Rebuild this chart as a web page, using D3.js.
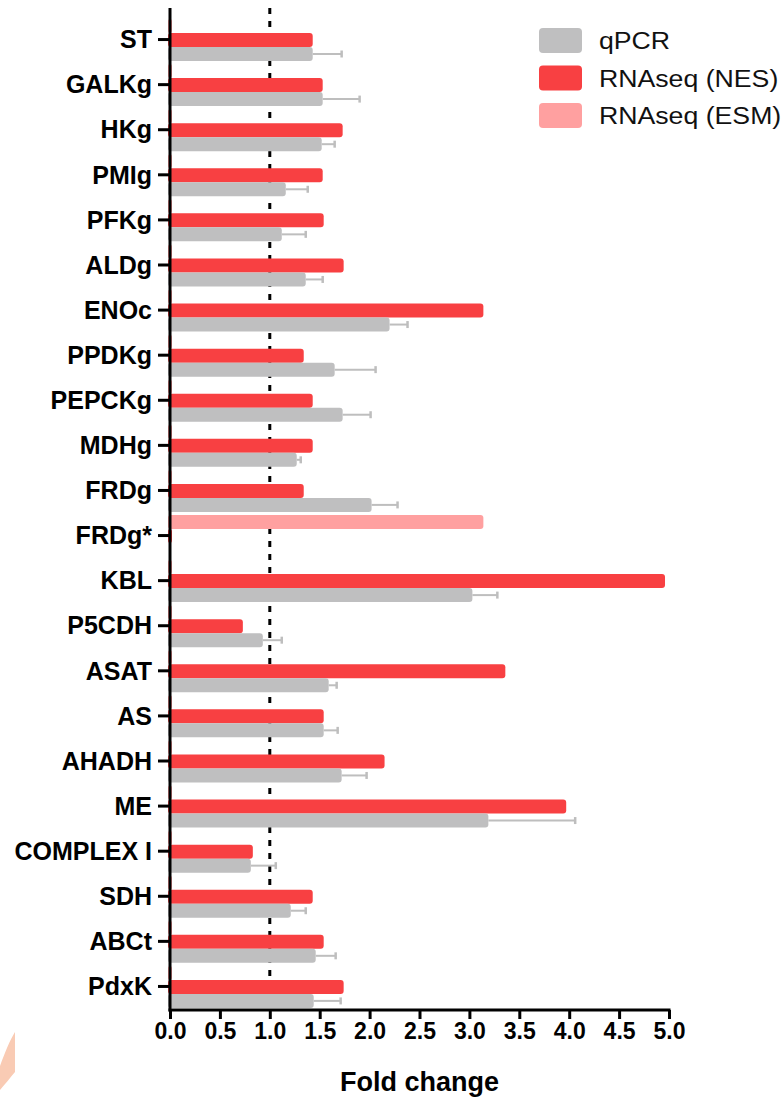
<!DOCTYPE html>
<html>
<head>
<meta charset="utf-8">
<script src="https://cdn.jsdelivr.net/npm/d3@7"></script>
<style>
  body { margin: 0; background: #fff; }
  svg { display: block; }
</style>
</head>
<body>
<div id="chart"></div>
<script>
var genes = ['ST', 'GALKg', 'HKg', 'PMIg', 'PFKg', 'ALDg', 'ENOc', 'PPDKg', 'PEPCKg', 'MDHg', 'FRDg',
  'FRDg*', 'KBL', 'P5CDH', 'ASAT', 'AS', 'AHADH', 'ME', 'COMPLEX I', 'SDH', 'ABCt', 'PdxK'];

var esm = [0.02, 0.02, 0.02, 0.02, 0.02, 0.02, 0.02, 0.02, 0.02, 0.02, 0.02,
  3.14, 0.02, 0.02, 0.02, 0.02, 0.02, 0.02, 0.02, 0.02, 0.02, 0.02];
var nes = [1.43, 1.53, 1.73, 1.53, 1.54, 1.74, 3.14, 1.34, 1.43, 1.43, 1.34,
  0.02, 4.96, 0.73, 3.36, 1.54, 2.15, 3.97, 0.83, 1.43, 1.54, 1.74];
var qpcr = [1.43, 1.53, 1.52, 1.16, 1.12, 1.36, 2.20, 1.65, 1.73, 1.27, 2.02,
  0, 3.03, 0.93, 1.59, 1.54, 1.72, 3.19, 0.81, 1.21, 1.46, 1.44];
var qpcrErr = [1.72, 1.90, 1.65, 1.38, 1.36, 1.53, 2.38, 2.06, 2.01, 1.31, 2.28,
  0, 3.28, 1.12, 1.67, 1.68, 1.97, 4.06, 1.06, 1.36, 1.66, 1.71];

var xTicks = [0, 0.5, 1, 1.5, 2, 2.5, 3, 3.5, 4, 4.5, 5];
var series = ['ESM', 'NES', 'qPCR'];
var legendLabels = ['qPCR', 'RNAseq (NES)', 'RNAseq (ESM)'];
var colors = { qPCR: '#bfbfc0', NES: '#f84042', ESM: '#ffa0a0' };

var width = 783, height = 1097;
var font = '"Liberation Sans", Arial, sans-serif';

var svg = d3.select('#chart')
  .append('svg')
  .attr('width', width)
  .attr('height', height);

var x = d3.scaleLinear()
  .domain([0, 5])
  .range([170, 669]);

var y = d3.scaleBand()
  .domain(genes)
  .range([18, 1010])
  .padding(0);

var ySub = d3.scaleBand()
  .domain(series)
  .range([1, 43]);

var rows = genes.map(function(g, i) {
  return { gene: g, ESM: esm[i], NES: nes[i], qPCR: qpcr[i], err: qpcrErr[i] };
});

// reference line at fold change 1
svg.append('line')
  .attr('x1', x(1)).attr('x2', x(1))
  .attr('y1', 8).attr('y2', 1010)
  .attr('stroke', '#000')
  .attr('stroke-width', 3)
  .attr('stroke-dasharray', '6,7');

var groups = svg.selectAll('.gene')
  .data(rows)
  .enter()
  .append('g')
  .attr('class', 'gene')
  .attr('transform', function(d) { return 'translate(0,' + y(d.gene) + ')'; });

// error bars (qPCR) drawn first, then bars
groups.filter(function(d) { return d.err > d.qPCR; })
  .each(function(d) {
    var g = d3.select(this);
    var cy = ySub('qPCR') + ySub.bandwidth() / 2;
    g.append('line')
      .attr('x1', x(d.qPCR)).attr('x2', x(d.err))
      .attr('y1', cy).attr('y2', cy)
      .attr('stroke', '#bebebe').attr('stroke-width', 2);
    g.append('line')
      .attr('x1', x(d.err)).attr('x2', x(d.err))
      .attr('y1', cy - 3.5).attr('y2', cy + 3.5)
      .attr('stroke', '#bebebe').attr('stroke-width', 2.5);
  });

series.forEach(function(s) {
  groups.append('rect')
    .attr('x', x(0) - 2)
    .attr('y', ySub(s))
    .attr('height', ySub.bandwidth())
    .attr('width', function(d) { return d[s] > 0 ? x(d[s]) - x(0) + 2 : 0; })
    .attr('rx', 3)
    .attr('fill', colors[s]);
});

// y axis
var yAxis = svg.append('g')
  .attr('transform', 'translate(' + x(0) + ',0)')
  .call(d3.axisLeft(y).tickSize(12).tickPadding(6));
yAxis.select('.domain').remove();
yAxis.selectAll('.tick line').attr('stroke', '#000').attr('stroke-width', 3)
  .attr('transform', 'translate(0,-1)');
yAxis.selectAll('.tick text')
  .attr('dy', '0.35em')
  .attr('transform', 'translate(0,-1)')
  .style('font-family', font)
  .style('font-weight', 'bold')
  .style('font-size', '25px')
  .attr('fill', '#000');

svg.append('line')
  .attr('x1', x(0)).attr('x2', x(0))
  .attr('y1', 8).attr('y2', 1011.5)
  .attr('stroke', '#000').attr('stroke-width', 3);

// x axis
var xAxis = svg.append('g')
  .attr('transform', 'translate(0,1010)')
  .call(d3.axisBottom(x).tickValues(xTicks).tickSize(9)
    .tickFormat(d3.format('.1f')));
xAxis.select('.domain').remove();
xAxis.append('line')
  .attr('x1', x(0) - 1.5).attr('x2', x(5) + 1.5)
  .attr('stroke', '#000').attr('stroke-width', 3);
xAxis.selectAll('.tick line').attr('stroke', '#000').attr('stroke-width', 3);
xAxis.selectAll('.tick text')
  .attr('y', 13)
  .style('font-family', font)
  .style('font-weight', 'bold')
  .style('font-size', '23px')
  .attr('fill', '#000');

svg.append('text')
  .attr('x', (x(0) + x(5)) / 2)
  .attr('y', 1091)
  .attr('text-anchor', 'middle')
  .style('font-family', font)
  .style('font-weight', 'bold')
  .style('font-size', '27px')
  .text('Fold change');

// legend
var legendKeys = ['qPCR', 'NES', 'ESM'];
var legend = svg.selectAll('.legend')
  .data(legendKeys)
  .enter()
  .append('g')
  .attr('class', 'legend')
  .attr('transform', function(d, i) { return 'translate(539,' + (28 + i * 37.5) + ')'; });

legend.append('rect')
  .attr('width', 43).attr('height', 25).attr('rx', 4)
  .attr('fill', function(d) { return colors[d]; });

legend.append('text')
  .attr('transform', 'translate(60,21) scale(1.16,1)')
  .style('font-family', font)
  .style('font-size', '23px')
  .attr('fill', '#111')
  .text(function(d, i) { return legendLabels[i]; });

// faint orange mark in the lower-left corner
svg.append('path')
  .attr('d', 'M0,1066 L0,1090 C6,1083 10,1078 15,1072 L15,1032 C10,1040 5,1052 0,1066 Z')
  .attr('fill', '#f9cbb4');
</script>
</body>
</html>
